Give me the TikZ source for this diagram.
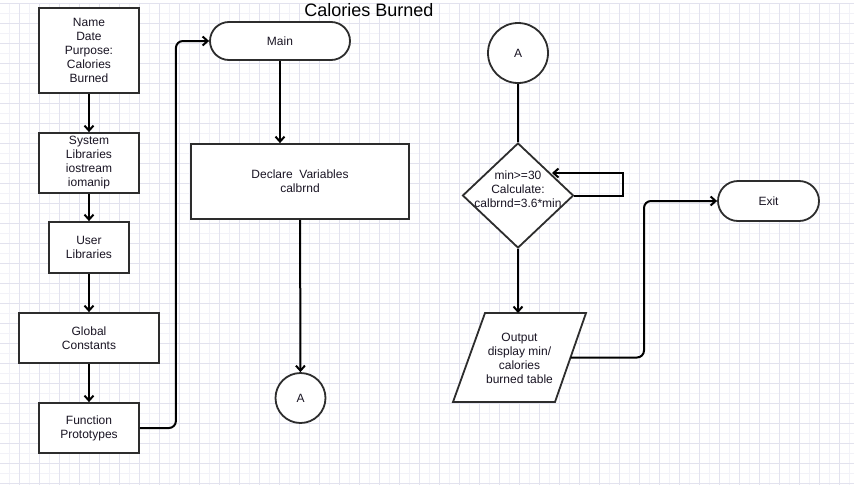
\documentclass[tikz,border=0pt]{standalone}
\usepackage{fontspec}
\setmainfont{Liberation Sans}
\usetikzlibrary{arrows.meta,shapes.geometric,shapes.misc}
\definecolor{gridc}{RGB}{226,226,238}
\definecolor{gridm}{RGB}{242,242,248}
\definecolor{boxc}{RGB}{45,45,45}
\definecolor{txtc}{RGB}{25,20,35}
\tikzset{
  base/.style={draw=boxc, line width=1.8pt, fill=white, inner sep=0pt, align=center,
    font=\fontsize{12}{14}\selectfont, text=txtc},
  box/.style={base, rectangle},
  term/.style={base, rounded rectangle},
  conn/.style={base, circle},
  txt/.style={font=\fontsize{12}{14}\selectfont, text=txtc, align=center, inner sep=0pt},
  arr/.style={draw=black, line width=2pt, -{Straight Barb[length=5pt,width=9pt,line width=2pt]}},
  lin/.style={draw=black, line width=2pt},
}
\begin{document}
\begin{tikzpicture}[x=1pt,y=-1pt]
\useasboundingbox (0,0) rectangle (854,485);
\fill[white] (0,0) rectangle (854,485);
\foreach \x in {9,29,...,849} \draw[gridm, line width=0.6pt] (\x,3) -- (\x,485);
\foreach \y in {13,33,...,483} \draw[gridm, line width=0.6pt] (0,\y) -- (854,\y);
\foreach \x in {19,39,...,849} \draw[gridc, line width=0.8pt] (\x,3) -- (\x,485);
\foreach \y in {3,23,...,483} \draw[gridc, line width=0.8pt] (0,\y) -- (854,\y);

\node[font=\fontsize{18}{20}\selectfont, text=black] (title) at (369,10) {Calories Burned};

\node[box, minimum width=100, minimum height=85] (name) at (89,50.5) {Name\\Date\\Purpose:\\Calories\\Burned};
\node[box, minimum width=100, minimum height=60] (syslib) at (89,163) {System\\Libraries\\iostream\\iomanip};
\node[box, minimum width=80, minimum height=51] (userlib) at (89,247.5) {User\\Libraries};
\node[box, minimum width=140, minimum height=50] (global) at (89,338) {Global\\Constants};
\node[box, minimum width=100, minimum height=50] (proto) at (89,428) {Function\\Prototypes};

\node[term, minimum width=140, minimum height=38] (main) at (280,41) {Main};
\node[box, minimum width=218, minimum height=75] (declare) at (300,181.5) {Declare~~Variables\\calbrnd};
\node[conn, minimum size=50] (a1) at (300.5,398) {A};

\node[conn, minimum size=60] (a2) at (518,53) {A};
\node[base, diamond, minimum width=111, minimum height=105] (dec) at (518,195.5) {};
\node[txt] (dectxt) at (518,189) {min>=30\\Calculate:\\calbrnd=3.6*min};

\draw[draw=boxc, line width=1.8pt, fill=white] (453,402) -- (485,313) -- (586,313) -- (555,402) -- cycle;
\node[txt] (out) at (519.5,358) {Output\\display min/\\calories\\burned table};
\coordinate (outN) at (518,313);
\coordinate (outE) at (570.5,357.5);

\node[term, minimum width=101, minimum height=40] (exit) at (768.5,201) {Exit};

\coordinate (loopend) at (552,173);

\draw[arr] (name) -- (syslib);
\draw[arr] (syslib) -- (userlib);
\draw[arr] (userlib) -- (global);
\draw[arr] (global) -- (proto);
\draw[arr, rounded corners=7pt] (proto.east) -- ++(36,0) |- (main.west);
\draw[arr] (main.south) -- (main.south |- declare.north);
\draw[arr] (declare) -- (a1);
\draw[lin] (a2) -- (dec);
\draw[arr] (dec.east) -- ++(49,0) |- (loopend);
\draw[arr] (dec.south) -- (outN);
\draw[arr, rounded corners=7pt] (outE) -- ++(73.5,0) |- (exit.west);
\end{tikzpicture}
\end{document}
